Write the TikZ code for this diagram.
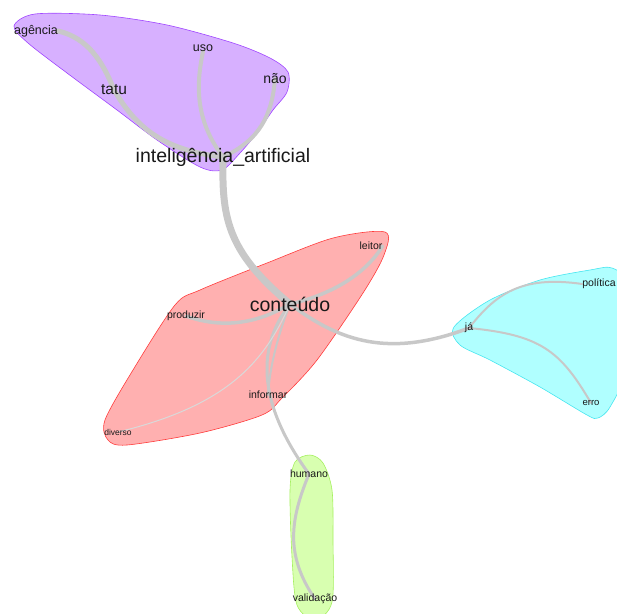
\documentclass[tikz,border=0pt]{standalone}
\usepackage{fontspec}
\setmainfont{Liberation Sans}
\usepackage{tikz}
\pgfdeclarelayer{hulls}
\pgfdeclarelayer{edges}
\pgfsetlayers{hulls,edges,main}

\definecolor{linkgray}{RGB}{200,200,200}
\definecolor{purplefill}{RGB}{215,176,255}
\definecolor{purpleline}{RGB}{160,70,255}
\definecolor{redfill}{RGB}{255,176,176}
\definecolor{redline}{RGB}{255,60,60}
\definecolor{cyanfill}{RGB}{176,255,255}
\definecolor{cyanline}{RGB}{70,230,240}
\definecolor{greenfill}{RGB}{216,255,176}
\definecolor{greenline}{RGB}{165,240,95}

\begin{document}
\begin{tikzpicture}[x=1pt, y=-1pt,
    word/.style={inner sep=0pt, text=black!90, font=\fontsize{10.5}{12}\selectfont},
    link/.style={draw=linkgray, line cap=round}]
    \useasboundingbox (0,0) rectangle (617,613);

    % words
    \node[word, font=\fontsize{12.5}{14}\selectfont] (agencia) at (36,31) {agência};
    \node[word, font=\fontsize{15.5}{17}\selectfont] (tatu) at (114,90) {tatu};
    \node[word, font=\fontsize{12.5}{14}\selectfont] (uso) at (203,48) {uso};
    \node[word, font=\fontsize{14}{16}\selectfont] (nao) at (275,79) {não};
    \node[word, font=\fontsize{19.5}{22}\selectfont] (ia) at (223,157) {inteligência\_artificial};
    \node[word, font=\fontsize{19.5}{22}\selectfont] (conteudo) at (290,304) {conteúdo};
    \node[word] (leitor) at (371,246) {leitor};
    \node[word] (produzir) at (186,316) {produzir};
    \node[word] (informar) at (268,395) {informar};
    \node[word, font=\fontsize{8.5}{10}\selectfont] (diverso) at (118,432) {diverso};
    \node[word] (ja) at (469,328) {já};
    \node[word] (politica) at (599,284) {política};
    \node[word, font=\fontsize{9.5}{11}\selectfont] (erro) at (591,403) {erro};
    \node[word] (humano) at (309,474) {humano};
    \node[word] (validacao) at (315,599) {validação};

    % links
    \begin{pgfonlayer}{edges}
    \draw[link, line width=7pt] (ia.center) .. controls (222,215) and (225,250) .. (conteudo.center);
    \draw[link, line width=5pt] (agencia.east) .. controls (88,38) and (103,62) .. (tatu.center);
    \draw[link, line width=5pt] (tatu.center) .. controls (135,125) and (160,150) .. (ia.center);
    \draw[link, line width=4pt] (uso.south) .. controls (196,85) and (195,120) .. (ia.center);
    \draw[link, line width=4pt] (nao.center) .. controls (272,115) and (260,140) .. (ia.center);
    \draw[link, line width=3.5pt] (conteudo.center) .. controls (330,295) and (365,275) .. (leitor.east);
    \draw[link, line width=3.5pt] (conteudo.center) .. controls (260,322) and (225,330) .. (produzir.center);
    \draw[link, line width=3.5pt] (conteudo.center) .. controls (340,342) and (390,358) .. (ja.center);
    \draw[link, line width=3pt] (conteudo.center) .. controls (258,345) and (255,400) .. (humano.center);
    \draw[link, line width=2pt] (conteudo.center) .. controls (278,335) and (270,365) .. (informar.center);
    \draw[link, line width=1pt, draw=linkgray!70] (conteudo.center) .. controls (265,360) and (230,405) .. (diverso.center);
    \draw[link, line width=3pt] (humano.center) .. controls (290,520) and (285,555) .. (validacao.center);
    \draw[link, line width=2pt] (ja.center) .. controls (495,295) and (520,275) .. (politica.west);
    \draw[link, line width=2pt] (ja.center) .. controls (540,335) and (560,350) .. (erro.center);
    \end{pgfonlayer}

    % clusters
    \begin{pgfonlayer}{hulls}
    \draw[fill=purplefill, draw=purpleline, line width=0.6pt] plot[smooth cycle, tension=0.5] coordinates {
        (14,26) (35,14) (100,15) (167,25) (233,43) (270,58) (288,72) (287,92) (273,110)
        (257,133) (240,153) (222,170) (200,167) (157,140) (117,110) (67,73) (28,43)};
    \draw[fill=redfill, draw=redline, line width=0.6pt] plot[smooth cycle, tension=0.5] coordinates {
        (385,232) (333,238) (267,263) (200,290) (175,305) (133,370) (105,420) (108,440)
        (127,445) (200,433) (262,415) (282,398) (317,360) (363,293) (384,255)};
    \draw[fill=cyanfill, draw=cyanline, line width=0.6pt] plot[smooth cycle, tension=0.5] coordinates {
        (454,327) (490,300) (540,280) (590,270) (612,268) (625,285) (625,370) (610,407)
        (598,418) (587,415) (540,387) (490,360) (460,345)};
    \draw[fill=greenfill, draw=greenline, line width=0.6pt] plot[smooth cycle, tension=0.5] coordinates {
        (310,455) (295,462) (290,490) (292,557) (297,605) (315,620) (332,602) (333,540)
        (332,490) (323,463)};
    \end{pgfonlayer}
\end{tikzpicture}
\end{document}
